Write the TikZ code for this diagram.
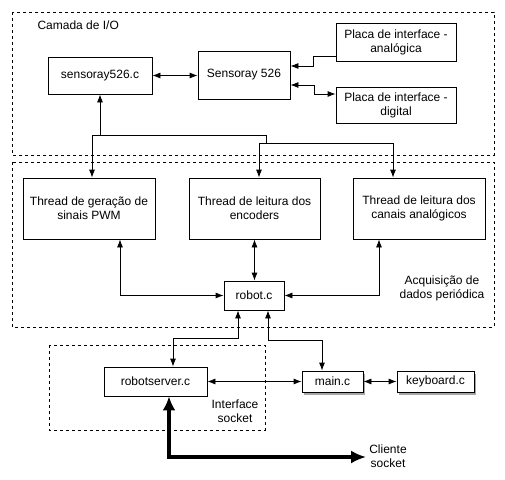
\documentclass[tikz,border=0pt]{standalone}
\usepackage{fontspec}
\setmainfont{Liberation Sans}
\usetikzlibrary{arrows.meta,shadows}
\tikzset{
  blk/.style={draw,line width=0.8pt,align=center,inner sep=2pt},
  dashbox/.style={draw,dashed,line width=0.8pt},
  arr/.style={line width=0.8pt,-{Latex[length=8pt,width=6pt]}},
  darr/.style={line width=0.8pt,{Latex[length=8pt,width=6pt]}-{Latex[length=8pt,width=6pt]}},
  shad/.style={drop shadow={shadow xshift=2pt,shadow yshift=-2.5pt,fill=black,opacity=0.35}}
}
\begin{document}
\begin{tikzpicture}[x=1pt,y=-1pt,font=\fontsize{12}{14}\selectfont]
    \useasboundingbox (0,0) rectangle (505,479);
    % camadas
    \draw[dashbox] (12,12) rectangle (494,155);
    \draw[dashbox] (12,162) rectangle (494,327);
    \draw[dashbox] (49,345) rectangle (265,430);
    \node[anchor=west] (camada) at (34,25) {Camada de I/O};
    \node[align=center] (aquis) at (442,288) {Acquisição de\\dados periódica};
    \node[align=center] (isock) at (235,411) {Interface\\socket};
    \node[align=center,inner sep=1pt] (cli) at (388,456) {Cliente\\socket};
    % blocos
    \node[blk,minimum width=104pt,minimum height=37pt] (s526c) at (100,75.5) {sensoray526.c};
    \node[blk,minimum width=92pt,minimum height=48pt] (s526) at (244,75) {Sensoray 526};
    \node[blk,minimum width=120pt,minimum height=38pt] (placaA) at (396,42) {Placa de interface -\\analógica};
    \node[blk,minimum width=120pt,minimum height=36pt] (placaD) at (396,105) {Placa de interface -\\digital};
    \node[blk,minimum width=132pt,minimum height=61pt] (pwm) at (89,208.5) {Thread de geração de\\sinais PWM};
    \node[blk,minimum width=131pt,minimum height=61pt] (enc) at (254.5,208.5) {Thread de leitura dos\\encoders};
    \node[blk,minimum width=132pt,minimum height=61pt] (ana) at (419,208.5) {Thread de leitura dos\\canais analógicos};
    \node[blk,minimum width=60pt,minimum height=29pt] (robot) at (254,295.5) {robot.c};
    \node[blk,minimum width=103pt,minimum height=29pt] (rsrv) at (155.5,381.5) {robotserver.c};
    \node[blk,shad,fill=white,minimum width=61pt,minimum height=21pt] (main) at (332.5,381.5) {main.c};
    \node[blk,shad,fill=white,minimum width=77pt,minimum height=21pt] (kbd) at (435.5,381.5) {keyboard.c};
    % ligacoes
    \draw[darr] (s526c.east) -- (s526c.east -| s526.west);
    \draw[arr] ([yshift=-14pt]placaA.west) -- ++(-22,0) |- ([yshift=9pt]s526.east);
    \draw[darr] ([yshift=-10pt]s526.east) -- ++(24,0) |- ([yshift=11pt]placaD.west);
    \coordinate (bus1) at (266,135);
    \coordinate (bus2) at (266,143);
    \draw[arr] (s526c.south |- bus1) -- (s526c.south);
    \draw[arr] (bus1) -| ([xshift=3pt]pwm.north);
    \draw (bus1) -- (bus2);
    \draw[arr] (bus2) -| ([xshift=4.5pt]enc.north);
    \draw[arr] (bus2) -| ([xshift=-26pt]ana.north);
    \draw[darr] ([xshift=31pt]pwm.south) |- (robot.west);
    \draw[darr] (enc.south) -- (enc.south |- robot.north);
    \draw[darr] ([xshift=-40pt]ana.south) |- (robot.east);
    \draw[darr] ([xshift=-16pt]robot.south) -- ++(0,28) -| ([xshift=17.5pt]rsrv.north);
    \draw[darr] ([xshift=14pt]robot.south) -- ++(0,30) -| ([xshift=-10.5pt]main.north);
    \draw[darr] (rsrv.east) -- (main.west);
    \draw[darr] (main.east) -- (kbd.west);
    \draw[line width=4pt,{Latex[length=14pt,width=13pt]}-{Latex[length=15pt,width=13pt]}] ([xshift=13.5pt]rsrv.south) |- ([xshift=-2pt,yshift=-1pt]cli.west);
\end{tikzpicture}
\end{document}
